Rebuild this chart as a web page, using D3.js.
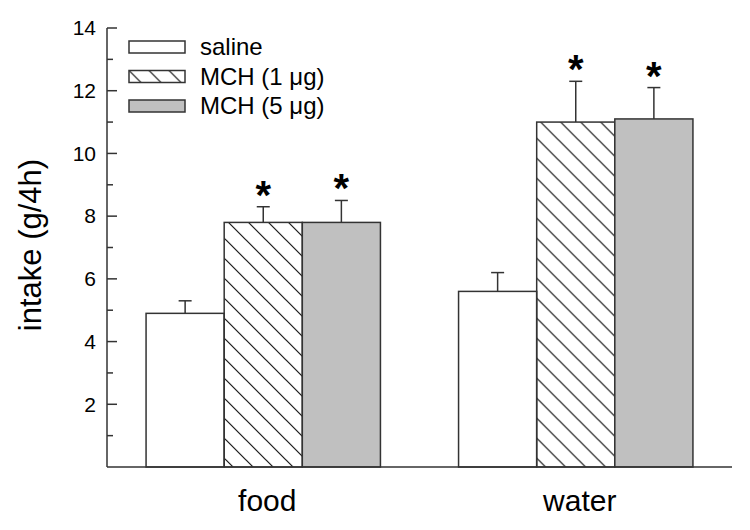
<!DOCTYPE html>
<html>
<head>
<meta charset="utf-8">
<script src="https://cdn.jsdelivr.net/npm/d3@7"></script>
<style>
  body { margin: 0; background: #fff; }
  text { font-family: "Liberation Sans", Arial, sans-serif; fill: #000; }
</style>
</head>
<body>
<div class="graph"></div>
<script>
// data
const groups = ["food", "water"];
const treatments = ["saline", "MCH (1 \u03bcg)", "MCH (5 \u03bcg)"];
const means = [[4.9, 7.8, 7.8], [5.6, 11.0, 11.1]];
const errors = [[0.4, 0.5, 0.7], [0.6, 1.3, 1.0]];
const significant = [[false, true, true], [false, true, true]];
const majorTicks = [2, 4, 6, 8, 10, 12, 14];
const minorTicks = [1, 3, 5, 7, 9, 11, 13];

let width = 750;
let height = 530;

let svg = d3.select(".graph")
  .append("svg")
  .attr("width", width)
  .attr("height", height);

// hatch pattern for the 1 ug bars
let defs = svg.append("defs");
defs.append("pattern")
  .attr("id", "hatch")
  .attr("patternUnits", "userSpaceOnUse")
  .attr("width", 20)
  .attr("height", 20)
  .append("path")
  .attr("d", "M-5,-5 L25,25 M-5,15 L5,25 M15,-5 L25,5")
  .attr("stroke", "#111")
  .attr("stroke-width", 1.2);

const fills = ["#ffffff", "url(#hatch)", "#c0c0c0"];

let y = d3.scaleLinear().domain([0, 14]).range([467, 28]);
let x0 = d3.scaleBand().domain(groups).range([107, 732])
  .paddingInner(0.25).paddingOuter(0.125);
let x1 = d3.scaleBand().domain(d3.range(treatments.length))
  .range([0, x0.bandwidth()]);

// bars
groups.forEach((g, gi) => {
  let grp = svg.append("g").attr("transform", "translate(" + x0(g) + ",0)");
  treatments.forEach((t, ti) => {
    let v = means[gi][ti];
    let cx = x1(ti) + x1.bandwidth() / 2;
    // error bar (upper only)
    let top = y(v + errors[gi][ti]);
    grp.append("line")
      .attr("x1", cx).attr("x2", cx)
      .attr("y1", y(v)).attr("y2", top)
      .attr("stroke", "#333").attr("stroke-width", 1.5);
    grp.append("line")
      .attr("x1", cx - 6.5).attr("x2", cx + 6.5)
      .attr("y1", top).attr("y2", top)
      .attr("stroke", "#333").attr("stroke-width", 1.5);
    grp.append("rect")
      .attr("x", x1(ti))
      .attr("y", y(v))
      .attr("width", x1.bandwidth())
      .attr("height", y(0) - y(v))
      .attr("fill", fills[ti])
      .attr("stroke", "#333")
      .attr("stroke-width", 1.5);
    if (significant[gi][ti]) {
      grp.append("text")
        .attr("x", cx)
        .attr("y", top + 2)
        .attr("text-anchor", "middle")
        .style("font-size", "40px")
        .style("font-weight", "bold")
        .text("*");
    }
  });
});

// y axis
svg.append("line")
  .attr("x1", 107).attr("x2", 107)
  .attr("y1", y(14)).attr("y2", y(0))
  .attr("stroke", "#333").attr("stroke-width", 1.5);
svg.selectAll(".major")
  .data(majorTicks)
  .enter().append("line")
  .attr("x1", 107).attr("x2", 117)
  .attr("y1", d => y(d)).attr("y2", d => y(d))
  .attr("stroke", "#333").attr("stroke-width", 1.5);
svg.selectAll(".minor")
  .data(minorTicks)
  .enter().append("line")
  .attr("x1", 107).attr("x2", 113)
  .attr("y1", d => y(d)).attr("y2", d => y(d))
  .attr("stroke", "#333").attr("stroke-width", 1.5);
svg.selectAll(".ticklabel")
  .data(majorTicks)
  .enter().append("text")
  .attr("x", 96)
  .attr("y", d => y(d))
  .attr("dy", "0.35em")
  .attr("text-anchor", "end")
  .style("font-size", "21px")
  .text(d => d);

// x axis
svg.append("line")
  .attr("x1", 107).attr("x2", 732)
  .attr("y1", y(0)).attr("y2", y(0))
  .attr("stroke", "#333").attr("stroke-width", 1.5);
svg.selectAll(".grouplabel")
  .data(groups)
  .enter().append("text")
  .attr("x", d => x0(d) + x0.bandwidth() / 2 + 4)
  .attr("y", 511)
  .attr("text-anchor", "middle")
  .style("font-size", "30px")
  .text(d => d);

svg.append("text")
  .attr("transform", "translate(41,245) rotate(-90)")
  .attr("text-anchor", "middle")
  .style("font-size", "31px")
  .text("intake (g/4h)");

// legend
let legend = svg.selectAll(".legend")
  .data(treatments)
  .enter().append("g")
  .attr("transform", (d, i) => "translate(129," + (41 + i * 29.5) + ")");
legend.append("rect")
  .attr("width", 56).attr("height", 12)
  .attr("fill", (d, i) => fills[i])
  .attr("stroke", "#333").attr("stroke-width", 1.5);
legend.append("text")
  .attr("x", 71).attr("y", 6)
  .attr("dy", "0.35em")
  .style("font-size", "24px")
  .text(d => d);
</script>
</body>
</html>
